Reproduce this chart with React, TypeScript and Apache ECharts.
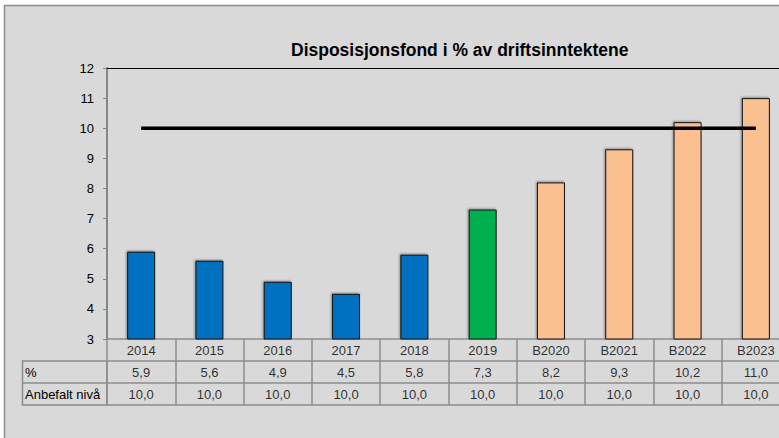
import React, { useEffect, useRef } from "react";
import * as echarts from "echarts";

const categories = ["2014", "2015", "2016", "2017", "2018", "2019", "B2020", "B2021", "B2022", "B2023"];
const percentValues = [5.9, 5.6, 4.9, 4.5, 5.8, 7.3, 8.2, 9.3, 10.2, 11.0];
const recommendedLevel = [10.0, 10.0, 10.0, 10.0, 10.0, 10.0, 10.0, 10.0, 10.0, 10.0];
const barColors = ["#0070c0", "#0070c0", "#0070c0", "#0070c0", "#0070c0", "#00b050", "#fac090", "#fac090", "#fac090", "#fac090"];
const rowLabels = ["%", "Anbefalt nivå"];
const titleText = "Disposisjonsfond i % av driftsinntektene";

const FONT = "'Liberation Sans', Arial, sans-serif";
const fmt = (v: number) => v.toFixed(1).replace(".", ",");

export default function App() {
  const ref = useRef<HTMLDivElement>(null);
  useEffect(() => {
    if (!ref.current) return;
    const chart = echarts.init(ref.current, undefined, { renderer: "svg" });
    const tableData: any[] = [];
    categories.forEach((c, i) => {
      tableData.push({ value: [c, 2.5], label: { formatter: c } });
      tableData.push({ value: [c, 1.5], label: { formatter: fmt(percentValues[i]) } });
      tableData.push({ value: [c, 0.5], label: { formatter: fmt(recommendedLevel[i]) } });
    });
    chart.setOption({
      animation: false,
      backgroundColor: "transparent",
      textStyle: { fontFamily: FONT },
      title: {
        text: titleText,
        left: 286,
        top: 36,
        textStyle: { fontFamily: FONT, fontSize: 17.5, fontWeight: "bold", color: "#000" },
      },
      graphic: [
        {
          type: "rect",
          z: -10,
          silent: true,
          shape: { x: 4.5, y: 5.5, width: 900, height: 600 },
          style: { fill: "#d9d9d9", stroke: "#8c8c8c", lineWidth: 1.5 },
        },
        {
          type: "rect",
          z: 5,
          silent: true,
          shape: { x: 22.5, y: 361, width: 84.5, height: 44 },
          style: { fill: "none", stroke: "#8c8c8c", lineWidth: 1.5 },
        },
        {
          type: "line",
          z: 5,
          silent: true,
          shape: { x1: 22.5, y1: 383, x2: 107, y2: 383 },
          style: { stroke: "#8c8c8c", lineWidth: 1.5 },
        },
        {
          type: "text",
          z: 6,
          x: 25,
          y: 372,
          style: { text: rowLabels[0], fontFamily: FONT, fontSize: 13, fill: "#000", verticalAlign: "middle" },
        },
        {
          type: "text",
          z: 6,
          x: 25,
          y: 394,
          style: { text: rowLabels[1], fontFamily: FONT, fontSize: 13, fill: "#000", verticalAlign: "middle" },
        },
      ],
      grid: [
        { left: 107, right: 10, top: 68, bottom: 99 },
        { left: 107, right: 10, top: 339, height: 66 },
      ],
      xAxis: [
        {
          gridIndex: 0,
          type: "category",
          data: categories,
          position: "top",
          axisLine: { show: true, lineStyle: { color: "#000", width: 1 } },
          axisTick: { show: false },
          axisLabel: { show: false },
          splitLine: { show: false },
        },
        {
          gridIndex: 1,
          type: "category",
          data: categories,
          axisLine: { show: false },
          axisTick: { show: false },
          axisLabel: { show: false },
          splitLine: { show: true, lineStyle: { color: "#8c8c8c", width: 1.5 } },
        },
      ],
      yAxis: [
        {
          gridIndex: 0,
          type: "value",
          min: 3,
          max: 12,
          interval: 1,
          axisLine: { show: true, lineStyle: { color: "#868686", width: 2 } },
          axisTick: { show: true, length: 4, lineStyle: { color: "#868686", width: 1 } },
          axisLabel: { margin: 13, fontSize: 13, color: "#000", fontFamily: FONT },
          splitLine: { show: false },
        },
        {
          gridIndex: 1,
          type: "value",
          min: 0,
          max: 3,
          interval: 1,
          axisLine: { show: false },
          axisTick: { show: false },
          axisLabel: { show: false },
          splitLine: { show: true, lineStyle: { color: "#8c8c8c", width: 1.5 } },
        },
      ],
      series: [
        {
          type: "bar",
          xAxisIndex: 0,
          yAxisIndex: 0,
          barWidth: "41%",
          data: percentValues.map((v, i) => ({
            value: v,
            itemStyle: {
              color: barColors[i],
              borderColor: "#111",
              borderWidth: 1,
              shadowColor: "rgba(0,0,0,0.35)",
              shadowBlur: 2,
              shadowOffsetX: -1,
              shadowOffsetY: -1,
            },
          })),
          z: 2,
        },
        {
          type: "line",
          xAxisIndex: 0,
          yAxisIndex: 0,
          data: recommendedLevel,
          symbol: "none",
          lineStyle: { color: "#000", width: 3.5 },
          z: 4,
        },
        {
          type: "scatter",
          xAxisIndex: 1,
          yAxisIndex: 1,
          symbol: "rect",
          symbolSize: 2,
          itemStyle: { color: "rgba(0,0,0,0)" },
          label: {
            show: true,
            position: "inside",
            fontFamily: FONT,
            fontSize: 13,
            color: "#000",
          },
          z: 6,
          data: tableData,
        },
      ],
    });
    return () => chart.dispose();
  }, []);
  return (
    <div style={{ position: "fixed", left: 0, top: 0, width: 779, height: 438, background: "#fff", overflow: "hidden" }}>
      <div ref={ref} style={{ width: 800, height: 438 }} />
    </div>
  );
}
